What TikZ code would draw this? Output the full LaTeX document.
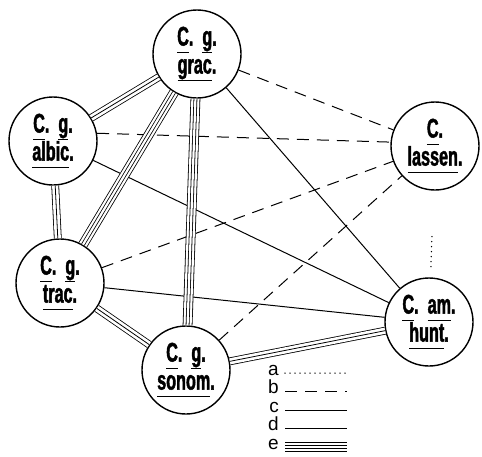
\documentclass[tikz,border=0pt]{standalone}
\usepackage{fontspec}
\newfontfamily\cityfont{Liberation Sans}[FakeStretch=0.6, FakeBold=1.5]
\newfontfamily\keyfont{Liberation Sans}
\newcommand{\ul}[1]{\underline{#1\vphantom{g}}}
\tikzset{
        % the six circled names
        city/.style={circle, draw, line width=1.4pt, minimum size=88pt, inner sep=0pt, align=center,
            font=\cityfont\bfseries\fontsize{27}{28}\selectfont},
        % the five kinds of link, a to e
        la/.style={line width=1.5pt, line cap=round, dash pattern=on 0pt off 5pt},
        lb/.style={line width=1pt, dash pattern=on 12pt off 8pt},
        lc/.style={line width=1pt},
        ld/.style={line width=.8pt, double distance=6.2pt, postaction={draw, line width=.8pt}},
        le/.style={line width=.8pt, double distance=8.2pt, postaction={draw, line width=.8pt, double distance=2.2pt}},
        key/.style={font=\keyfont\fontsize{19}{19}\selectfont, inner sep=0pt, text height=1ex, text depth=0pt, anchor=east}
    }
\begin{document}
\begin{tikzpicture}[x=1pt,y=1pt,yscale=-1]
\useasboundingbox (0,0) rectangle (482,456);

% Circles
\node [city] (grac) at (197,54) {\ul{C}.\hspace{9pt}\ul{g}.\\\ul{grac}.};
\node [city] (albic) at (53,141) {\ul{C}.\hspace{9pt}\ul{g}.\\\ul{albic}.};
\node [city] (lassen) at (435,146) {\ul{C}.\\\ul{lassen}.};
\node [city] (trac) at (60,283) {\ul{C}.\hspace{9pt}\ul{g}.\\\ul{trac}.};
\node [city] (hunt) at (429,322) {\ul{C}.\hspace{9pt}\ul{am}.\\\ul{hunt}.};
\node [city] (sonom) at (186,370) {\ul{C}.\hspace{9pt}\ul{g}.\\\ul{sonom}.};

% a
\draw [la, shorten <=46pt, shorten >=8pt] (lassen) -- (hunt);
% b
\draw [lb] (grac) -- (lassen);
\draw [lb] (albic.10) -- (lassen.175);
\draw [lb] (trac) -- (lassen);
\draw [lb] (sonom) -- (lassen);
% c
\draw [lc] (grac) -- (hunt);
\draw [lc] (albic) -- (hunt);
\draw [lc] (trac) -- (hunt);
% d
\draw [ld] (grac) -- (albic);
\draw [ld] (albic) -- (trac);
\draw [ld] (trac) -- (sonom);
\draw [ld] (sonom) -- (hunt);
% e
\draw [le] (grac) -- (trac);
\draw [le] (grac) -- (sonom);

% Key
\foreach \k/\st [count=\i] in {a/la, b/lb, c/lc, d/ld, e/le} {
    \node [key] (key\k) at (279,354.5+18.5*\i) {\k};
    \coordinate (end\k) at (347,354.5+18.5*\i);
    \draw [\st] ([xshift=6pt]key\k.east) -- (end\k);
}

\end{tikzpicture}
\end{document}
